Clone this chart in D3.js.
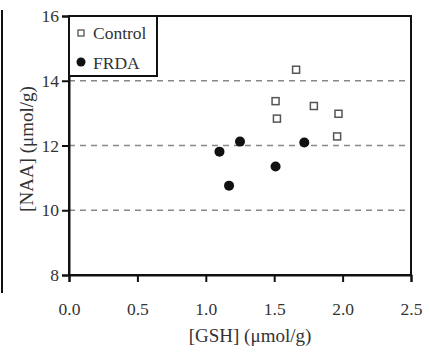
<!DOCTYPE html>
<html>
<head>
<meta charset="utf-8">
<script src="https://cdn.jsdelivr.net/npm/d3@7"></script>
<style>
    body { margin: 0; background: #fff; }
    svg { display: block; font-family: "Liberation Serif", "Times New Roman", serif; }
    svg text { font-family: "Liberation Serif", "Times New Roman", serif; }
</style>
</head>
<body>
<svg id="chart" width="430" height="352"></svg>
<script>
// Data
const controlGSH = [1.66, 1.51, 1.52, 1.79, 1.97, 1.96];
const controlNAA = [14.34, 13.37, 12.83, 13.22, 12.98, 12.28];
const frdaGSH = [1.10, 1.25, 1.17, 1.51, 1.72];
const frdaNAA = [11.81, 12.12, 10.76, 11.35, 12.09];
const xTicks = [0, 0.5, 1.0, 1.5, 2.0, 2.5];
const yTicks = [8, 10, 12, 14, 16];
const gridValues = [10, 12, 14];

const svg = d3.select('#chart');
const m = { left: 69, right: 411, top: 16, bottom: 275 };
const fs = 17.5;      // tick + legend text
const titleFs = 19;   // axis titles

const x = d3.scaleLinear().domain([0, 2.5]).range([m.left, m.right]);
const y = d3.scaleLinear().domain([8, 16]).range([m.bottom, m.top]);

// stray border line on the left of the crop
svg.append('line')
    .attr('x1', 2).attr('x2', 2).attr('y1', 10).attr('y2', 293)
    .attr('stroke', '#111').attr('stroke-width', 2);

// dashed gridlines
svg.selectAll('.grid').data(gridValues).enter().append('line')
    .attr('x1', m.left).attr('x2', m.right)
    .attr('y1', d => y(d)).attr('y2', d => y(d))
    .attr('stroke', '#888').attr('stroke-width', 1.5)
    .attr('stroke-dasharray', '6,5');

// frame
svg.append('rect')
    .attr('x', m.left).attr('y', m.top)
    .attr('width', m.right - m.left).attr('height', m.bottom - m.top)
    .attr('fill', 'none').attr('stroke', '#111').attr('stroke-width', 2);

// axes
const xAxis = svg.append('g')
    .attr('transform', `translate(0,${m.bottom})`)
    .call(d3.axisBottom(x).tickValues(xTicks).tickFormat(d3.format('.1f')).tickSize(7).tickPadding(21));
const yAxis = svg.append('g')
    .attr('transform', `translate(${m.left},0)`)
    .call(d3.axisLeft(y).tickValues(yTicks).tickSize(7).tickPadding(3));

[xAxis, yAxis].forEach(g => {
    g.attr('font-family', '"Liberation Serif", serif').attr('font-size', fs);
    g.select('.domain').attr('stroke', '#111').attr('stroke-width', 2);
    g.selectAll('.tick line').attr('stroke', '#111').attr('stroke-width', 2);
    g.selectAll('.tick text').attr('fill', '#333');
});

// axis titles
svg.append('text')
    .attr('x', 250).attr('y', 342)
    .attr('text-anchor', 'middle')
    .attr('fill', '#333').style('font-size', titleFs + 'px')
    .text('[GSH] (μmol/g)');
svg.append('text')
    .attr('transform', 'translate(33,149) rotate(-90)')
    .attr('text-anchor', 'middle')
    .attr('fill', '#333').style('font-size', titleFs + 'px')
    .text('[NAA] (μmol/g)');

// control points (open squares)
const sq = 7;
svg.selectAll('.ctrl').data(controlGSH).enter().append('rect')
    .attr('x', d => x(d) - sq / 2)
    .attr('y', (d, i) => y(controlNAA[i]) - sq / 2)
    .attr('width', sq).attr('height', sq)
    .attr('fill', '#fff').attr('stroke', '#555').attr('stroke-width', 1.5);

// FRDA points (filled circles)
svg.selectAll('.frda').data(frdaGSH).enter().append('circle')
    .attr('cx', d => x(d))
    .attr('cy', (d, i) => y(frdaNAA[i]))
    .attr('r', 5)
    .attr('fill', '#111');

// legend
const lg = svg.append('g');
lg.append('rect')
    .attr('x', m.left).attr('y', m.top)
    .attr('width', 88).attr('height', 60)
    .attr('fill', '#fff').attr('stroke', '#111').attr('stroke-width', 2);
lg.append('rect')
    .attr('x', 81 - 3).attr('y', 33 - 3).attr('width', 6).attr('height', 6)
    .attr('fill', '#fff').attr('stroke', '#555').attr('stroke-width', 1.3);
lg.append('circle').attr('cx', 81).attr('cy', 62).attr('r', 4.5).attr('fill', '#111');
lg.append('text').attr('x', 93).attr('y', 39)
    .attr('fill', '#333').style('font-size', fs + 'px').text('Control');
lg.append('text').attr('x', 93).attr('y', 69)
    .attr('fill', '#333').style('font-size', fs + 'px').text('FRDA');
</script>
</body>
</html>
